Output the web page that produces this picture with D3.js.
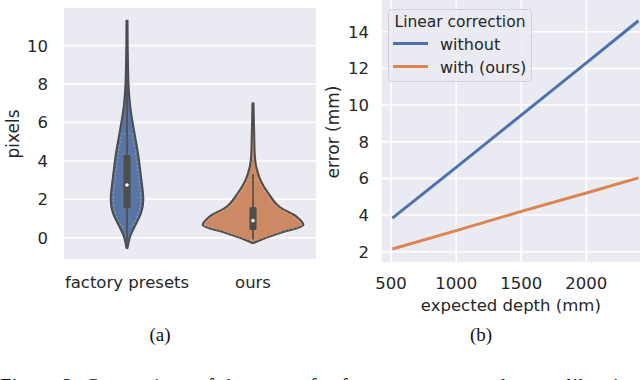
<!DOCTYPE html>
<html><head><meta charset="utf-8">
<script src="https://cdn.jsdelivr.net/npm/d3@7"></script>
<style>body{margin:0;background:#fff}svg{display:block}</style>
</head><body>
<svg id="c" width="640" height="380"></svg>
<script>
// ---- data: panel (a) violins ----
const categories = ["factory presets", "ours"];
const factoryVals = [11.3, 10.0, 9.0, 8.05, 6.8, 5.44, 4.4, 3.17, 1.96, 1.27, 0.57, 0.04, -0.54];
const factoryDens = [0.009, 0.012, 0.018, 0.026, 0.058, 0.132, 0.193, 0.246, 0.286, 0.246, 0.132, 0.053, 0.009];
const oursVals = [7.0, 5.44, 4.4, 3.68, 3.0, 2.3, 1.6, 1.08, 0.66, 0.24, -0.12, -0.28];
const oursDens = [0.009, 0.021, 0.03, 0.058, 0.132, 0.272, 0.468, 0.772, 0.886, 0.474, 0.132, 0.009];
const boxQ1 = [1.53, 0.4];
const boxMedian = [2.74, 0.89];
const boxQ3 = [4.3, 1.6];
const whiskLow = [-0.3, -0.1];
const whiskHigh = [8.3, 3.3];
const yTicksA = [0, 2, 4, 6, 8, 10];

// ---- data: panel (b) lines ----
const depth = [510, 1000, 1500, 2000, 2400];
const errWithout = [3.83, 6.6, 9.45, 12.3, 14.6];
const errWith = [2.15, 3.15, 4.2, 5.2, 6.03];
const seriesNames = ["without", "with (ours)"];
const xTicksB = [500, 1000, 1500, 2000];
const yTicksB = [2, 4, 6, 8, 10, 12, 14];

const svg = d3.select("#c");
const font = "'DejaVu Sans', sans-serif";
const txt = "#262626";
const bg = "#eaeaf2";

// ===== Panel (a) =====
const A = {l: 64, r: 316, t: 8, b: 259};
const xA = d3.scaleBand().domain(categories).range([A.l, A.r]);
const yA = d3.scaleLinear().domain([-1.11, 11.96]).range([A.b, A.t]);
const wA = d3.scaleLinear().domain([0, 1]).range([0, 57]);
const gA = svg.append("g");
gA.append("rect").attr("x", A.l).attr("y", A.t).attr("width", A.r - A.l).attr("height", A.b - A.t).attr("fill", bg);
gA.selectAll("line.grid").data(yTicksA).join("line")
  .attr("x1", A.l).attr("x2", A.r).attr("y1", d => yA(d)).attr("y2", d => yA(d))
  .attr("stroke", "#fff").attr("stroke-width", 1.6);
gA.selectAll("text.yt").data(yTicksA).join("text")
  .attr("x", 48).attr("y", d => yA(d)).attr("dy", "0.36em").attr("text-anchor", "end")
  .attr("font-family", font).attr("font-size", 16.5).attr("fill", txt).text(d => d);
gA.selectAll("text.xt").data(categories).join("text")
  .attr("x", d => xA(d) + xA.bandwidth() / 2).attr("y", 288).attr("text-anchor", "middle")
  .attr("font-family", font).attr("font-size", 16.5).attr("fill", txt).text(d => d);
gA.append("text").attr("transform", `translate(19,134) rotate(-90)`).attr("text-anchor", "middle")
  .attr("font-family", font).attr("font-size", 17).attr("fill", txt).text("pixels");

const violins = [
  {vals: factoryVals, dens: factoryDens, fill: "#5975a4"},
  {vals: oursVals, dens: oursDens, fill: "#cc8963"}
];
violins.forEach((v, i) => {
  const cx = xA(categories[i]) + xA.bandwidth() / 2;
  const pts = v.vals.map((d, j) => ({y: d, w: v.dens[j]}));
  const area = d3.area().curve(d3.curveMonotoneY)
    .y(d => yA(d.y)).x0(d => cx - wA(d.w)).x1(d => cx + wA(d.w));
  gA.append("path").attr("d", area(pts)).attr("fill", v.fill)
    .attr("stroke", "#4d4d4d").attr("stroke-width", 2).attr("stroke-linejoin", "round");
  const innerPts = pts.filter(d => wA(d.w) > 4);
  const inner = d3.area().curve(d3.curveMonotoneY)
    .y(d => yA(d.y)).x0(d => cx - (wA(d.w) - 2.5)).x1(d => cx + (wA(d.w) - 2.5));
  gA.append("path").attr("d", inner(innerPts)).attr("fill", "none")
    .attr("stroke", "#ffffff").attr("stroke-opacity", 0.4).attr("stroke-width", 0.7).attr("stroke-dasharray", "2,2");
  gA.append("line").attr("x1", cx).attr("x2", cx).attr("y1", yA(whiskLow[i])).attr("y2", yA(whiskHigh[i]))
    .attr("stroke", "#4d4d4d").attr("stroke-width", 1.6);
  gA.append("rect").attr("x", cx - 3.5).attr("width", 7)
    .attr("y", yA(boxQ3[i])).attr("height", yA(boxQ1[i]) - yA(boxQ3[i]))
    .attr("rx", 1.5).attr("fill", "#4d4d4d");
  gA.append("circle").attr("cx", cx).attr("cy", yA(boxMedian[i])).attr("r", 1.8).attr("fill", "#fff");
});

// ===== Panel (b) =====
const B = {l: 381.7, r: 640, t: 0, b: 262};
const xB = d3.scaleLinear().domain([428, 2412]).range([B.l, B.r]);
const yB = d3.scaleLinear().domain([1.44, 15.73]).range([B.b, B.t]);
const gB = svg.append("g");
gB.append("rect").attr("x", B.l).attr("y", B.t).attr("width", B.r - B.l).attr("height", B.b - B.t).attr("fill", bg);
gB.selectAll("line.gy").data(yTicksB).join("line")
  .attr("x1", B.l).attr("x2", B.r).attr("y1", d => yB(d)).attr("y2", d => yB(d))
  .attr("stroke", "#fff").attr("stroke-width", 1.6);
gB.selectAll("line.gx").data(xTicksB).join("line")
  .attr("y1", B.t).attr("y2", B.b).attr("x1", d => xB(d)).attr("x2", d => xB(d))
  .attr("stroke", "#fff").attr("stroke-width", 1.6);
gB.selectAll("text.yt").data(yTicksB).join("text")
  .attr("x", 369).attr("y", d => yB(d)).attr("dy", "0.36em").attr("text-anchor", "end")
  .attr("font-family", font).attr("font-size", 16.5).attr("fill", txt).text(d => d);
gB.selectAll("text.xt").data(xTicksB).join("text")
  .attr("x", d => xB(d)).attr("y", 289).attr("text-anchor", "middle")
  .attr("font-family", font).attr("font-size", 16.5).attr("fill", txt).text(d => d);
gB.append("text").attr("x", (B.l + B.r) / 2).attr("y", 311).attr("text-anchor", "middle")
  .attr("font-family", font).attr("font-size", 16.5).attr("fill", txt).text("expected depth (mm)");
gB.append("text").attr("transform", `translate(339,132) rotate(-90)`).attr("text-anchor", "middle")
  .attr("font-family", font).attr("font-size", 17).attr("fill", txt).text("error (mm)");

const colors = ["#4c72b0", "#dd8452"];
const series = [errWithout, errWith];
const line = d3.line().x((d, j) => xB(depth[j])).y(d => yB(d));
svg.append("clipPath").attr("id", "cb").append("rect")
  .attr("x", B.l).attr("y", B.t).attr("width", B.r - B.l).attr("height", B.b - B.t);
const ciHalf = [[0.02, 0.03, 0.05, 0.08, 0.12], [0.01, 0.015, 0.02, 0.03, 0.04]];
series.forEach((s, i) => {
  const band = d3.area().x((d, j) => xB(depth[j]))
    .y0((d, j) => yB(d - ciHalf[i][j])).y1((d, j) => yB(d + ciHalf[i][j]));
  gB.append("path").attr("d", band(s)).attr("fill", colors[i]).attr("opacity", 0.18).attr("clip-path", "url(#cb)");
  gB.append("path").attr("d", line(s)).attr("fill", "none").attr("stroke", colors[i])
    .attr("stroke-width", 3).attr("clip-path", "url(#cb)");
});

// legend
const lg = gB.append("g");
lg.append("rect").attr("x", 388.5).attr("y", 9.5).attr("width", 143).attr("height", 72).attr("rx", 3)
  .attr("fill", "#eaeaf2").attr("fill-opacity", 0.85).attr("stroke", "#d0d0d6").attr("stroke-width", 1);
lg.append("text").attr("x", 460).attr("y", 26.5).attr("text-anchor", "middle")
  .attr("font-family", font).attr("font-size", 15.5).attr("fill", txt).text("Linear correction");
seriesNames.forEach((n, i) => {
  const yy = 43.5 + i * 23;
  lg.append("line").attr("x1", 393).attr("x2", 428).attr("y1", yy).attr("y2", yy)
    .attr("stroke", colors[i]).attr("stroke-width", 3);
  lg.append("text").attr("x", 440).attr("y", yy + 6).attr("font-family", font).attr("font-size", 16)
    .attr("fill", txt).text(n);
});

// sub-captions
svg.append("text").attr("x", 160).attr("y", 341).attr("text-anchor", "middle")
  .attr("font-family", "'Liberation Serif', serif").attr("font-size", 19).attr("fill", "#111").text("(a)");
svg.append("text").attr("x", 481).attr("y", 341).attr("text-anchor", "middle")
  .attr("font-family", "'Liberation Serif', serif").attr("font-size", 19).attr("fill", "#111").text("(b)");
// figure caption line, cut at the bottom edge as in the reference
svg.append("text").attr("x", 0).attr("y", 393).attr("font-family", "'Liberation Serif', serif")
  .attr("font-size", 20).attr("fill", "#111")
  .attr("textLength", 640).attr("lengthAdjust", "spacing")
  .text("Figure 3:  Comparison of the errors for factory presets and our calibration");
</script>
</body></html>
